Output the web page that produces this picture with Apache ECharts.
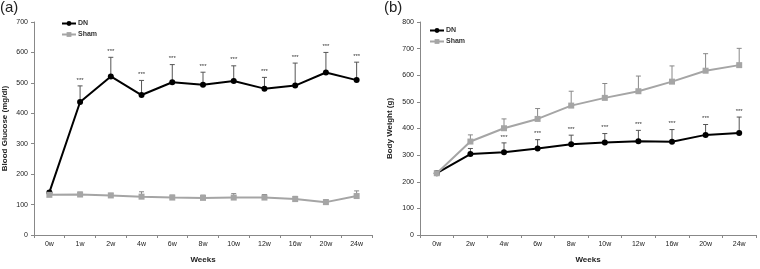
<!DOCTYPE html>
<html>
<head>
<meta charset="utf-8">
<script src="https://cdn.jsdelivr.net/npm/echarts@6/dist/echarts.min.js"></script>
<style>
  html, body { margin: 0; padding: 0; background: #fff; }
  #chart { width: 760px; height: 269px; }
</style>
</head>
<body>
<div id="chart"></div>
<script>
// panel (a): blood glucose
const weeksA = ['0w', '1w', '2w', '4w', '6w', '8w', '10w', '12w', '16w', '20w', '24w'];
const dnGlucose = [140, 437, 521, 460, 502, 494, 506, 481, 491, 534, 509];
const dnGlucoseSd = [4, 53, 63, 48, 58, 41, 50, 37, 74, 66, 59];
const shamGlucose = [132, 133, 130, 126, 123, 122, 123, 123, 118, 108, 128];
const shamGlucoseSd = [7, 8, 7, 16, 8, 9, 13, 10, 9, 8, 17];
const glucoseStars = ['', '***', '***', '***', '***', '***', '***', '***', '***', '***', '***'];

// panel (b): body weight
const weeksB = ['0w', '2w', '4w', '6w', '8w', '10w', '12w', '16w', '20w', '24w'];
const dnWeight = [232, 304, 311, 325, 341, 347, 352, 350, 376, 383];
const dnWeightSd = [6, 21, 35, 33, 34, 34, 41, 46, 39, 60];
const shamWeight = [232, 351, 401, 436, 486, 515, 540, 576, 617, 638];
const shamWeightSd = [8, 25, 35, 39, 54, 54, 57, 59, 64, 63];
const weightStars = ['', '**', '***', '***', '***', '***', '***', '***', '***', '***'];

const FONT = '"Liberation Sans", Arial, sans-serif';
const DN_COLOR = '#000000';
const SHAM_COLOR = '#a5a5a5';

function errData(values, sds, stars) {
  return values.map((v, i) => [i, v, v + sds[i], stars ? stars[i] : '']);
}

// error bars (upper half only) + significance stars
function errSeries(name, gridIdx, values, sds, stars, color) {
  return {
    type: 'custom',
    name: name + ' SD',
    xAxisIndex: gridIdx,
    yAxisIndex: gridIdx,
    silent: true,
    z: 1,
    encode: { x: 0, y: 1 },
    data: errData(values, sds, stars),
    renderItem(params, api) {
      const idx = api.value(0);
      const base = api.coord([idx, api.value(1)]);
      const top = api.coord([idx, api.value(2)]);
      const star = api.value(3);
      const children = [
        { type: 'line', shape: { x1: base[0], y1: base[1], x2: top[0], y2: top[1] },
          style: { stroke: color, lineWidth: 1 } },
        { type: 'line', shape: { x1: top[0] - 2.5, y1: top[1], x2: top[0] + 2.5, y2: top[1] },
          style: { stroke: color, lineWidth: 1 } }
      ];
      if (star) {
        children.push({
          type: 'text',
          style: { text: star, x: top[0], y: top[1] - 3, align: 'center', verticalAlign: 'bottom',
                   font: '6px ' + FONT, fill: '#333' }
        });
      }
      return { type: 'group', children: children };
    }
  };
}

function lineSeries(name, gridIdx, values, color, symbol) {
  return {
    type: 'line',
    name: name,
    xAxisIndex: gridIdx,
    yAxisIndex: gridIdx,
    data: values,
    z: 3,
    symbol: symbol,
    symbolSize: 6,
    showAllSymbol: true,
    lineStyle: { color: color, width: 2 },
    itemStyle: { color: color },
    emphasis: { disabled: true }
  };
}

function xAxis(gridIdx, cats) {
  return {
    type: 'category',
    gridIndex: gridIdx,
    data: cats,
    boundaryGap: true,
    name: 'Weeks',
    nameLocation: 'middle',
    nameGap: 21,
    nameTextStyle: { fontFamily: FONT, fontWeight: 'bold', fontSize: 8, color: '#222' },
    axisLine: { lineStyle: { color: '#888', width: 1 } },
    axisTick: { show: true, length: 3, lineStyle: { color: '#888' } },
    axisLabel: { fontFamily: FONT, fontSize: 7, color: '#222', margin: 6 },
    splitLine: { show: false }
  };
}

function yAxis(gridIdx, max, name, gap) {
  return {
    type: 'value',
    gridIndex: gridIdx,
    min: 0,
    max: max,
    interval: 100,
    name: name,
    nameLocation: 'middle',
    nameGap: gap,
    nameTextStyle: { fontFamily: FONT, fontWeight: 'bold', fontSize: 8, color: '#222' },
    axisLine: { show: true, lineStyle: { color: '#888', width: 1 } },
    axisTick: { show: true, length: 3, lineStyle: { color: '#888' } },
    axisLabel: { fontFamily: FONT, fontSize: 7, color: '#222', margin: 6 },
    splitLine: { show: false }
  };
}

function legend(left, top) {
  return {
    left: left,
    top: top,
    orient: 'vertical',
    itemGap: 4,
    itemWidth: 14,
    itemHeight: 6,
    selectedMode: false,
    textStyle: { fontFamily: FONT, fontWeight: 'bold', fontSize: 7, color: '#333', padding: [0, 0, 0, -3] },
    data: ['DN', 'Sham']
  };
}

const chart = echarts.init(document.getElementById('chart'), null, { renderer: 'canvas' });
chart.setOption({
  animation: false,
  backgroundColor: '#fff',
  title: [
    { text: '(a)', left: 0, top: 0, padding: 0, textStyle: { fontFamily: FONT, fontWeight: 'normal', fontSize: 15, color: '#222' } },
    { text: '(b)', left: 384, top: 0, padding: 0, textStyle: { fontFamily: FONT, fontWeight: 'normal', fontSize: 15, color: '#222' } }
  ],
  legend: [legend(56, 15), legend(424, 22)],
  grid: [
    { left: 34, top: 22, width: 338, height: 221 },
    { left: 420, top: 22, width: 336, height: 221 }
  ],
  xAxis: [xAxis(0, weeksA), xAxis(1, weeksB)],
  yAxis: [yAxis(0, 700, 'Blood Glucose (mg/dl)', 25), yAxis(1, 800, 'Body Weight (g)', 26)],
  series: [
    lineSeries('DN', 0, dnGlucose, DN_COLOR, 'circle'),
    lineSeries('Sham', 0, shamGlucose, SHAM_COLOR, 'rect'),
    errSeries('DN', 0, dnGlucose, dnGlucoseSd, glucoseStars, '#555'),
    errSeries('Sham', 0, shamGlucose, shamGlucoseSd, null, '#888'),
    lineSeries('DN', 1, dnWeight, DN_COLOR, 'circle'),
    lineSeries('Sham', 1, shamWeight, SHAM_COLOR, 'rect'),
    errSeries('DN', 1, dnWeight, dnWeightSd, weightStars, '#555'),
    errSeries('Sham', 1, shamWeight, shamWeightSd, null, '#888')
  ]
});
</script>
</body>
</html>
